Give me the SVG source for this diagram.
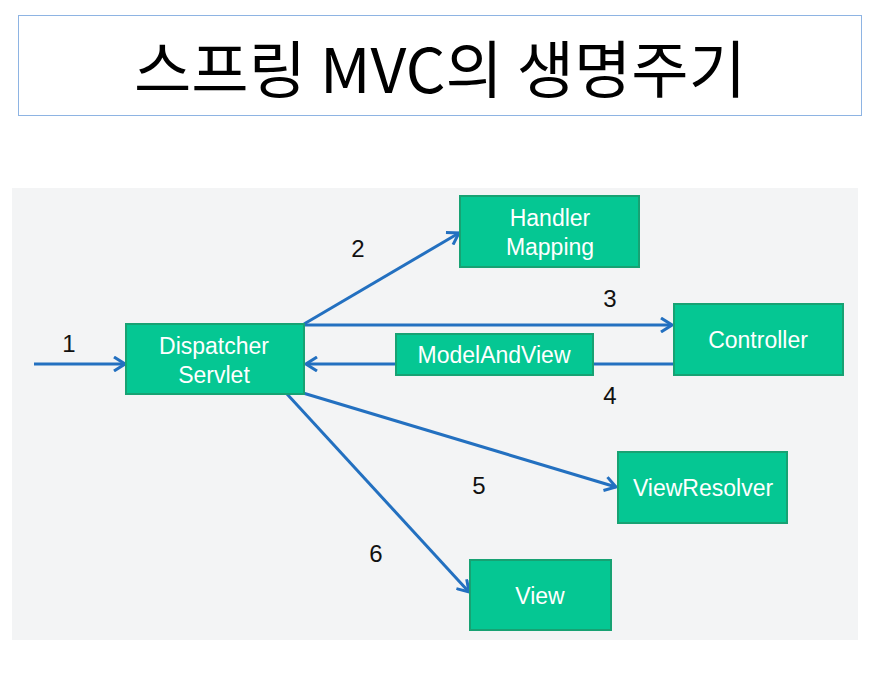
<svg xmlns="http://www.w3.org/2000/svg" width="890" height="679" viewBox="0 0 890 679">
<style>
.box{fill:#05c793;stroke:#17a273;stroke-width:2}
.lbl{font-family:"Liberation Sans",Arial,sans-serif;font-size:23px;fill:#ffffff;text-anchor:middle}
.num{font-family:"Liberation Sans",Arial,sans-serif;font-size:24px;fill:#111111;text-anchor:middle}
.conn{stroke:#2370c0;stroke-width:3;fill:none}
</style>
<defs>
<marker id="ah" viewBox="0 0 14 16" refX="13" refY="8" markerWidth="14" markerHeight="16" markerUnits="userSpaceOnUse" orient="auto">
<path d="M2,1 L13,8 L2,15" fill="none" stroke="#2370c0" stroke-width="3"/>
</marker>
</defs>
<rect x="0" y="0" width="890" height="679" fill="#ffffff"/>
<g id="title">
<rect x="18.500" y="15.500" width="843" height="100" fill="#ffffff" stroke="#8eb4e3" stroke-width="1"/>
<text x="440" y="93" font-family="'Noto Sans CJK KR','Noto Sans',sans-serif" font-size="62" fill="#000000" text-anchor="middle" textLength="612" lengthAdjust="spacingAndGlyphs">스프링 MVC의 생명주기</text>
</g>
<rect x="12" y="188" width="846" height="452" fill="#f3f4f5"/>
<g id="connectors">
<line class="conn" x1="34" y1="364" x2="125" y2="364" marker-end="url(#ah)"/>
<line class="conn" x1="304" y1="324" x2="459" y2="233" marker-end="url(#ah)"/>
<line class="conn" x1="304" y1="325" x2="672" y2="325" marker-end="url(#ah)"/>
<line class="conn" x1="674" y1="364" x2="306" y2="364" marker-end="url(#ah)"/>
<line class="conn" x1="303" y1="393" x2="616" y2="487" marker-end="url(#ah)"/>
<line class="conn" x1="287" y1="394" x2="469" y2="592" marker-end="url(#ah)"/>
</g>
<g id="labels">
<text class="num" x="69" y="352">1</text>
<text class="num" x="358" y="257">2</text>
<text class="num" x="610" y="307">3</text>
<text class="num" x="610" y="404">4</text>
<text class="num" x="479" y="494">5</text>
<text class="num" x="376" y="562">6</text>
</g>
<g id="dispatcher">
<rect class="box" x="126" y="324" width="178" height="70"/>
<text class="lbl" x="214" y="354">Dispatcher</text>
<text class="lbl" x="214" y="383">Servlet</text>
</g>
<g id="handlermapping">
<rect class="box" x="460" y="196" width="179" height="71"/>
<text class="lbl" x="550" y="226">Handler</text>
<text class="lbl" x="550" y="255">Mapping</text>
</g>
<g id="controller">
<rect class="box" x="674" y="304" width="169" height="71"/>
<text class="lbl" x="758" y="348">Controller</text>
</g>
<g id="modelandview">
<rect class="box" x="396" y="334" width="197" height="41"/>
<text class="lbl" x="494" y="363">ModelAndView</text>
</g>
<g id="viewresolver">
<rect class="box" x="618" y="452" width="169" height="71"/>
<text class="lbl" x="703" y="496">ViewResolver</text>
</g>
<g id="view">
<rect class="box" x="470" y="560" width="141" height="70"/>
<text class="lbl" x="540" y="604">View</text>
</g>
</svg>
